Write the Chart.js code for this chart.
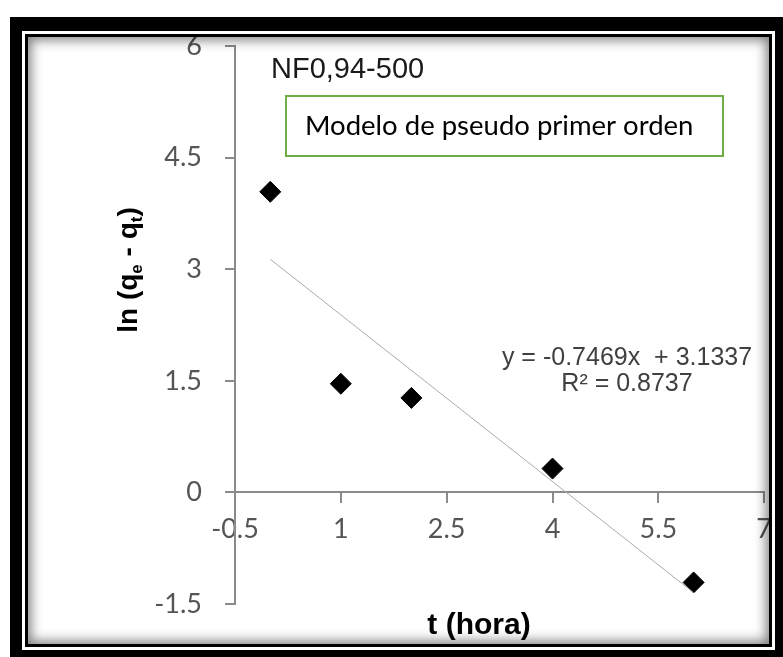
<!DOCTYPE html>
<html>
<head>
<meta charset="utf-8">
<script src="https://cdn.jsdelivr.net/npm/chart.js@4.4.1/dist/chart.umd.min.js"></script>
<style>
  html, body { margin: 0; padding: 0; background: #fff; }
  #wrap { position: relative; width: 783px; height: 657px; overflow: hidden; }
  #chart { position: absolute; left: 0; top: 0; }
  .frame {
    position: absolute; left: 10px; top: 17px; width: 773px; height: 640px;
    box-sizing: border-box; border-style: solid; border-color: #000;
    border-width: 14px 8px 7px 12px; pointer-events: none;
  }
  .frame .inner {
    position: absolute; left: 3px; top: 3px; right: 3px; bottom: 3px;
    border: 3px solid #000;
    box-shadow: inset 0 0 12px 3px rgba(0, 0, 0, 0.5);
  }
</style>
</head>
<body>
<div id="wrap">
  <canvas id="chart" width="783" height="657"></canvas>
  <div class="frame"><div class="inner"></div></div>
</div>
<script>
// data
const T_HOURS = [0, 1, 2, 4, 6];
const LN_QE_QT = [4.04, 1.46, 1.27, 0.32, -1.21];

const X_TICKS = [-0.5, 1, 2.5, 4, 5.5, 7];
const Y_TICKS = [-1.5, 0, 1.5, 3, 4.5, 6];

// trendline as printed on the chart
const TREND_X = [0, 6];
const TREND_SLOPE = -0.7469;
const TREND_INTERCEPT = 3.1337;
const EQUATION_LINES = ['y = -0.7469x  + 3.1337', 'R\u00b2 = 0.8737'];

const CHART_TITLE = 'NF0,94-500';
const BOX_TEXT = 'Modelo de pseudo primer orden';
const X_TITLE = 't (hora)';
// [text, isSubscript]
const Y_TITLE_PARTS = [['ln (q', false], ['e', true], [' - q', false], ['t', true], [')', false]];

const TICK_COLOR = '#555555';
const AXIS_COLOR = '#8a8a8a';

const points = T_HOURS.map((t, i) => ({ x: t, y: LN_QE_QT[i] }));
const trend = TREND_X.map(x => ({ x: x, y: TREND_SLOPE * x + TREND_INTERCEPT }));

const overlayText = {
  id: 'overlayText',
  afterDraw(chart) {
    const ctx = chart.ctx;
    ctx.save();

    ctx.fillStyle = '#1a1a1a';
    ctx.font = '29px "Liberation Sans", Arial, sans-serif';
    ctx.textAlign = 'left';
    ctx.textBaseline = 'alphabetic';
    ctx.fillText(CHART_TITLE, 271, 78);

    // green text box
    ctx.fillStyle = '#fff';
    ctx.fillRect(286, 96, 437, 60);
    ctx.strokeStyle = '#70ad47';
    ctx.lineWidth = 2;
    ctx.strokeRect(286, 96, 437, 60);
    ctx.fillStyle = '#000';
    ctx.font = '25px Lato, sans-serif';
    const fit = 25 * 388 / ctx.measureText(BOX_TEXT).width;
    ctx.font = fit.toFixed(1) + 'px Lato, sans-serif';
    ctx.textBaseline = 'middle';
    ctx.fillText(BOX_TEXT, 305, 126);

    // trendline equation
    ctx.fillStyle = '#404040';
    ctx.font = '25px "Liberation Sans", Arial, sans-serif';
    ctx.textAlign = 'center';
    ctx.textBaseline = 'alphabetic';
    ctx.fillText(EQUATION_LINES[0], 627, 365);
    ctx.fillText(EQUATION_LINES[1], 627, 391);

    // x title
    ctx.fillStyle = '#000';
    ctx.font = 'bold 30px "Liberation Sans", Arial, sans-serif';
    ctx.fillText(X_TITLE, 479, 634);

    // y title with subscripts, rotated
    const big = 'bold 28px "Liberation Sans", Arial, sans-serif';
    const small = 'bold 17px "Liberation Sans", Arial, sans-serif';
    let total = 0;
    Y_TITLE_PARTS.forEach(([s, sub]) => {
      ctx.font = sub ? small : big;
      total += ctx.measureText(s).width;
    });
    ctx.translate(137, 270);
    ctx.rotate(-Math.PI / 2);
    ctx.textAlign = 'left';
    let x = -total / 2;
    Y_TITLE_PARTS.forEach(([s, sub]) => {
      ctx.font = sub ? small : big;
      ctx.fillText(s, x, sub ? 5 : 0);
      x += ctx.measureText(s).width;
    });

    ctx.restore();
  }
};

new Chart(document.getElementById('chart').getContext('2d'), {
  type: 'scatter',
  data: {
    datasets: [
      {
        data: trend,
        showLine: true,
        borderColor: '#ababab',
        borderWidth: 1,
        pointRadius: 0
      },
      {
        data: points,
        pointStyle: 'rectRot',
        pointRadius: 10.5,
        backgroundColor: '#000',
        borderColor: '#000',
        borderWidth: 1
      }
    ]
  },
  options: {
    responsive: false,
    animation: false,
    layout: { padding: { left: 0, top: 46, right: 18, bottom: 53 } },
    plugins: { legend: { display: false }, tooltip: { enabled: false } },
    scales: {
      x: {
        type: 'linear',
        position: { y: 0 },
        min: -0.5,
        max: 7,
        afterBuildTicks: s => { s.ticks = X_TICKS.map(v => ({ value: v })); },
        ticks: {
          color: TICK_COLOR,
          font: { family: 'Lato, sans-serif', size: 27 },
          padding: 11,
          autoSkip: false,
          maxRotation: 0
        },
        grid: { drawOnChartArea: false, tickLength: 10, color: AXIS_COLOR, lineWidth: 2 },
        border: { color: AXIS_COLOR, width: 2 }
      },
      y: {
        type: 'linear',
        position: 'left',
        min: -1.5,
        max: 6,
        afterBuildTicks: s => { s.ticks = Y_TICKS.map(v => ({ value: v })); },
        afterFit: s => { s.width = 235; },
        ticks: {
          color: TICK_COLOR,
          font: { family: 'Lato, sans-serif', size: 27 },
          padding: 23,
          autoSkip: false
        },
        grid: { drawOnChartArea: false, tickLength: 10, color: AXIS_COLOR, lineWidth: 2 },
        border: { color: AXIS_COLOR, width: 2 }
      }
    }
  },
  plugins: [overlayText]
});
</script>
</body>
</html>
